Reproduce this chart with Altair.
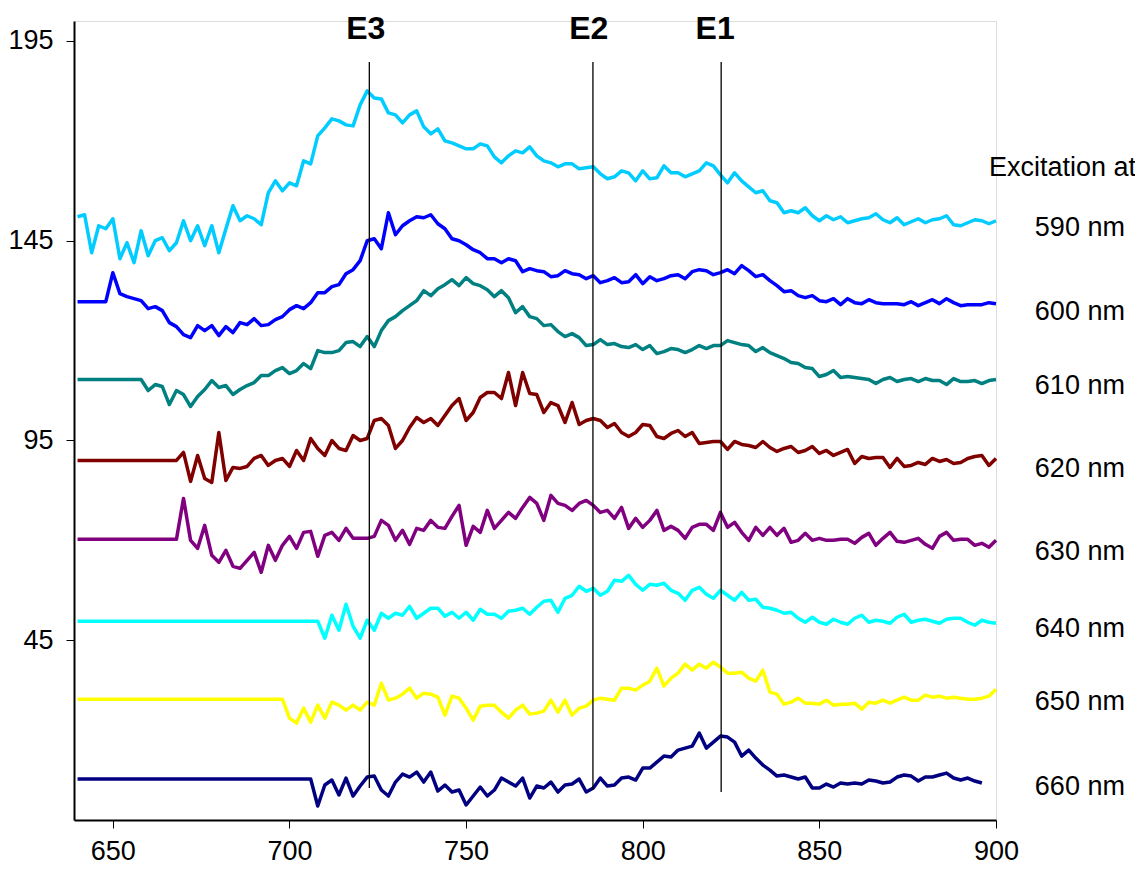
import altair as alt
import pandas as pd

# ---------------- data ----------------
WL_STEP = 2
SERIES = ["590 nm", "600 nm", "610 nm", "620 nm", "630 nm", "640 nm", "650 nm", "660 nm"]
COLORS = ["#00CCFF", "#0000FF", "#008080", "#800000", "#800080", "#00FFFF", "#FFFF00", "#000080"]

# flat baseline level, first wavelength of measured part, measured values (2 nm steps)
FLAT = {"590 nm": None, "600 nm": 129.75, "610 nm": 110.25, "620 nm": 90.0,
        "630 nm": 70.25, "640 nm": 49.75, "650 nm": 30.25, "660 nm": 10.25}
START = {"590 nm": 640, "600 nm": 650, "610 nm": 660, "620 nm": 670,
         "630 nm": 670, "640 nm": 710, "650 nm": 700, "660 nm": 708}

S590 = [151, 151.5, 142, 148.75, 148, 150.5, 140.5, 144.5, 139.5, 147.5,
        141.25, 145, 145.75, 142.5, 144.5, 150, 145, 148.75, 143.75, 148.75,
        142, 148, 153.75, 150, 151.25, 150.5, 149, 157, 160, 157.5,
        159.5, 158.75, 165, 164.25, 171.25, 173.25, 175.5, 175, 174, 173.75,
        179, 182.5, 180.75, 180.5, 177, 176.5, 174.5, 176.5, 177.5, 173.5,
        171.75, 173, 170, 169.5, 168.75, 168, 168, 169.25, 168.75, 166,
        164.5, 166.25, 167.5, 167, 168.5, 166.25, 165, 164.5, 163.5, 164.25,
        164.25, 163, 163.25, 163.5, 161.75, 160.5, 161, 162.5, 162, 160,
        162.5, 160.5, 160.75, 163.75, 162, 162, 161, 161.75, 162.5, 164.5,
        163.75, 161.5, 159.5, 162, 160, 158.5, 157, 157.5, 155, 154.5,
        152, 152.5, 152, 153.25, 151.25, 150, 151.25, 150.25, 151, 149.5,
        150, 150.5, 150.75, 151.75, 150.25, 149.5, 150.75, 149, 149.75, 150.5,
        149.5, 150.25, 150.5, 151.25, 149, 148.75, 149.5, 150.25, 150, 149.25,
        150]

S600 = [137, 131.75, 131, 130.5, 130, 128, 128.5, 127.5, 124.5, 123.5,
        121.5, 120.75, 123.75, 122.5, 123.75, 121.25, 123.5, 122, 124.5, 124,
        125.5, 123.75, 124, 125.25, 126, 127.75, 128.75, 128, 129.5, 132,
        132, 133.5, 134, 136.75, 137.75, 140, 145, 145.5, 143, 152,
        146.5, 148.75, 150, 151, 150.75, 151.5, 149.25, 148, 145.5, 145,
        144, 142.75, 142, 140.5, 140.5, 139.5, 140.5, 140, 137.25, 138,
        137.5, 137.25, 136, 136.25, 137.5, 136.75, 136.5, 135.5, 136.25, 134.5,
        135, 135.75, 134.5, 134.75, 136.5, 134.25, 136, 135, 135.5, 136.25,
        136.5, 135.5, 137.25, 137.75, 137.5, 136.5, 137, 137.75, 136.75, 138.75,
        137.5, 136, 136.5, 135, 133.75, 132.25, 132.5, 131.25, 130.75, 131.25,
        130, 129.75, 130.5, 129, 130.5, 129.5, 129.25, 130.25, 129.5, 129.25,
        129.25, 129.25, 129, 129.75, 128.75, 129.5, 130.25, 129.25, 130.5, 129.5,
        128.75, 129, 129, 129, 129.5, 129.25]

S610 = [107.5, 109, 108.5, 104, 107.5, 106.5, 103.5, 106, 107.75, 110,
        108.25, 108.75, 106.5, 107.75, 108.75, 109.5, 111.25, 111.25, 112.5, 113.25,
        111.75, 112.5, 114.25, 113, 117.5, 117, 117, 117.5, 119.5, 119.75,
        118.5, 121, 118.5, 122.5, 125, 126, 127.5, 128.75, 130, 132.5,
        131.25, 133, 134, 135.25, 133.75, 135.75, 134.25, 133.75, 132.75, 131,
        132.5, 130.75, 127, 128.5, 126, 125.5, 123.75, 124, 122.25, 121,
        121.75, 120.75, 118.75, 119, 120.25, 119, 119.25, 118.5, 118.25, 119,
        117.75, 118.75, 116.75, 117.25, 118, 117.75, 117, 117.75, 118.75, 118,
        118.75, 118.75, 120, 119.5, 119, 118.75, 117.25, 118.25, 117, 116.25,
        115.5, 114.5, 114.25, 113.25, 113, 111, 111.5, 112.5, 110.75, 111,
        110.75, 110.5, 110.25, 109.25, 110.25, 110.75, 109.75, 110.25, 110.5, 109.75,
        110.5, 110, 110, 109, 110.5, 109.75, 109.75, 110, 109.25, 110,
        110.25]

S620 = [92, 84.75, 91.25, 85.5, 84.5, 97, 85, 88.25, 88, 88.5,
        90.5, 91.25, 88.75, 90, 90.5, 88.5, 92.5, 90, 95.5, 93,
        91.25, 95, 93, 92.5, 96.25, 95, 95.5, 100, 100.5, 98.75,
        93, 95, 98.25, 100.75, 99.5, 100.5, 98.75, 101.25, 103.75, 105.5,
        100, 102, 105.75, 107, 107, 105.5, 112, 103.75, 112, 106.75,
        106.5, 102, 104.5, 103.75, 99.5, 104.5, 99, 100, 100.5, 100,
        98.25, 99.25, 97, 96, 97, 99, 98.75, 96, 95.5, 96.75,
        97.5, 96, 97, 94.25, 94.5, 94.75, 94.75, 92.75, 94.75, 94,
        93.75, 93.25, 94.75, 93.25, 92.25, 93, 93.5, 92, 92.5, 93.5,
        91.75, 92.5, 91.25, 92, 92.75, 89.25, 91, 90.5, 90.75, 90.75,
        88.25, 90.5, 88.5, 88.75, 89.5, 89, 90.5, 89.75, 90.25, 89.25,
        89.5, 90.5, 91, 91.25, 88.75, 90.5]

S630 = [80.5, 70, 68, 73.75, 66.25, 64.5, 67.5, 63.5, 63, 65,
        67, 62, 68.75, 65, 68.75, 71, 68, 72, 72.25, 66,
        71.25, 72, 70, 73, 70.5, 70.5, 70.5, 71, 75, 73.75,
        70, 72.5, 69, 73, 72.5, 75, 73.25, 73, 76, 78.75,
        68.75, 73.5, 72, 77.5, 73, 75, 77, 75.5, 78.25, 80.75,
        79.25, 75, 81.25, 79.25, 78.75, 77.5, 79.25, 80, 78.75, 77,
        77.5, 75.5, 78.25, 73, 75.5, 73.25, 75, 77.5, 72.5, 73.5,
        72.5, 70.5, 73.25, 74, 74, 72.5, 77, 73.25, 74.5, 72,
        70, 73.25, 71.25, 73.25, 71.25, 73, 69.5, 70, 71.75, 70,
        70.5, 70, 70, 70.25, 70.25, 69.25, 70.75, 71.75, 68.75, 70.5,
        72, 69.75, 69.5, 70, 70.5, 69, 68, 71, 72, 70,
        70.25, 70.25, 68.75, 69.25, 68.25, 70]

S640 = [45.5, 51.25, 47.5, 54, 48.5, 45.5, 50, 47.5, 51.75, 50.5,
        51.75, 51.25, 53.5, 50.5, 51.75, 53, 53, 51, 52, 50.5,
        52, 50, 52.75, 51.5, 51.5, 50.5, 52.25, 52.5, 53, 51.5,
        53.25, 54.75, 55, 52, 55.5, 56.25, 58.5, 57.25, 58, 56.25,
        57.25, 60, 59.75, 61.25, 59, 57.5, 59, 58.75, 59.25, 57.5,
        56.75, 55, 57.5, 58.25, 56.5, 55.5, 57.5, 56.25, 55, 57,
        55, 55.25, 53.25, 53, 52.5, 51.75, 52, 50.5, 49.5, 50.75,
        49.5, 49, 50.25, 49.5, 49, 50.5, 51.25, 49.5, 50, 49.75,
        49.25, 50.75, 51.5, 49.5, 50, 50.25, 49.75, 49.25, 50.25, 50.5,
        50.5, 49.5, 48.75, 50, 49.5, 49.25]

S650 = [25.5, 24.25, 28, 24.5, 28.75, 25.5, 29.5, 28.75, 27.5, 28.75,
        27.5, 29.5, 28.75, 34.25, 30, 30.5, 31.5, 33, 30.5, 31.75,
        31.5, 30.75, 26.25, 31, 30.5, 28, 25, 28.5, 28.75, 28.75,
        27, 25.5, 27.5, 28.75, 26.5, 26.75, 27.25, 30, 27, 30,
        26.25, 28, 28.5, 30, 30.5, 30.25, 30, 33, 33, 32.5,
        33.75, 34.75, 38, 33.5, 35.5, 36.75, 39, 37.5, 39, 38,
        39.5, 38.25, 36.75, 36.75, 37, 35.5, 34.75, 37.5, 32, 31.5,
        29, 29.5, 30.5, 29.25, 29.25, 29, 30, 28.75, 29, 29,
        29.25, 27.75, 29.5, 29.25, 30, 29.25, 30, 30.75, 30, 30,
        31.25, 30.75, 31, 30.5, 30.75, 30.5, 30.25, 30.25, 30.5, 31,
        32.75]

S660 = [3.5, 8.75, 10, 6.25, 10.5, 6, 8.5, 10.75, 11, 7.5,
        6, 9.5, 11.5, 10.75, 12, 9.5, 12, 7.25, 8.75, 7,
        7.5, 3.75, 6, 8.25, 6, 7.5, 10.5, 9.5, 8.5, 10.5,
        5.5, 8.5, 8, 9.5, 7, 8.75, 9, 10.25, 7, 8,
        10.5, 8.5, 8.75, 10.5, 10.75, 10, 13, 13, 14.5, 16,
        15.75, 17.5, 18, 18.5, 21.75, 18, 19.5, 21, 20.75, 19.5,
        16, 17.5, 15.5, 13.75, 12.5, 11, 11.25, 10.75, 10.25, 10.75,
        8, 8, 9, 8.25, 9.25, 9, 9.25, 9, 10, 9.75,
        9.25, 9.5, 10.75, 11.25, 11, 9.75, 10.75, 10.75, 11.25, 11.75,
        10.5, 10, 10.5, 9.75, 9.25]

VALUES = {"590 nm": S590, "600 nm": S600, "610 nm": S610, "620 nm": S620,
          "630 nm": S630, "640 nm": S640, "650 nm": S650, "660 nm": S660}

# reference lines E3, E2, E1
E_LABELS = ["E3", "E2", "E1"]
E_POS = [722.6, 785.9, 822.2]
E_TOP = [189.75, 189.75, 189.75]
E_BOTTOM = [8.0, 7.5, 7.0]
E_TEXT_X = [721.6, 784.7, 820.5]
E_TEXT_Y = [195.5, 195.5, 195.5]

# right-hand labels
LABEL_X = 911
LABEL_Y = [146.25, 125.25, 106.75, 85.75, 65.0, 45.75, 27.5, 6.25]
HEADER = "Excitation at"
HEADER_X = 898
HEADER_Y = 161.25

X_TICKS = [650, 700, 750, 800, 850, 900]
Y_TICKS = [45, 95, 145, 195]

# ---------------- build tables ----------------
rows = []
for s in SERIES:
    vals = VALUES[s]
    start = START[s]
    order = 0
    if FLAT[s] is not None:
        rows.append({"series": s, "wl": 640, "v": FLAT[s], "o": order}); order += 1
        rows.append({"series": s, "wl": start - WL_STEP, "v": FLAT[s], "o": order}); order += 1
    for i, v in enumerate(vals):
        rows.append({"series": s, "wl": start + i * WL_STEP, "v": v, "o": order}); order += 1
df = pd.DataFrame(rows)

rules_df = pd.DataFrame({"x": E_POS, "y": E_TOP, "y2": E_BOTTOM})
etext_df = pd.DataFrame({"x": E_TEXT_X, "y": E_TEXT_Y, "t": E_LABELS})
lab_df = pd.DataFrame({"x": [LABEL_X] * len(SERIES), "y": LABEL_Y, "t": SERIES})
head_df = pd.DataFrame({"x": [HEADER_X], "y": [HEADER_Y], "t": [HEADER]})

FONT = "Liberation Sans"

xscale = alt.Scale(domain=[639, 900], nice=False, zero=False)
yscale = alt.Scale(domain=[0, 200], nice=False, zero=False)

xaxis = alt.Axis(values=X_TICKS, title=None, grid=False, domainColor="black",
                 domainWidth=2, tickColor="black", tickWidth=1, tickSize=8,
                 labelFont=FONT, labelFontSize=27, labelColor="black",
                 labelPadding=10, labelFlush=False)
yaxis = alt.Axis(values=Y_TICKS, title=None, grid=False, domainColor="black",
                 domainWidth=2, tickColor="black", tickWidth=1, tickSize=8,
                 labelFont=FONT, labelFontSize=27, labelColor="black",
                 labelPadding=13, labelFlush=False)

lines = alt.Chart(df).mark_line(strokeWidth=3.5, strokeJoin="round").encode(
    x=alt.X("wl:Q", scale=xscale, axis=xaxis),
    y=alt.Y("v:Q", scale=yscale, axis=yaxis),
    color=alt.Color("series:N", scale=alt.Scale(domain=SERIES, range=COLORS), legend=None),
    order="o:Q",
)

rules = alt.Chart(rules_df).mark_rule(color="black", strokeWidth=1.3).encode(
    x=alt.X("x:Q", scale=xscale), y=alt.Y("y:Q", scale=yscale), y2="y2:Q"
)

etext = alt.Chart(etext_df).mark_text(
    font=FONT, fontSize=32, fontWeight="bold", color="black",
    align="center", baseline="alphabetic"
).encode(x=alt.X("x:Q", scale=xscale), y=alt.Y("y:Q", scale=yscale), text="t:N")

labels = alt.Chart(lab_df).mark_text(
    font=FONT, fontSize=27, color="black", align="left", baseline="alphabetic"
).encode(x=alt.X("x:Q", scale=xscale), y=alt.Y("y:Q", scale=yscale), text="t:N")

header = alt.Chart(head_df).mark_text(
    font=FONT, fontSize=27, color="black", align="left", baseline="alphabetic"
).encode(x=alt.X("x:Q", scale=xscale), y=alt.Y("y:Q", scale=yscale), text="t:N")

chart = alt.layer(lines, rules, etext, labels, header).properties(
    width=922, height=799,
    autosize=alt.AutoSizeParams(type="none"),
    padding={"left": 66, "top": 13, "right": 139, "bottom": 44},
).configure_view(stroke=None).configure(background="white")

chart.save("out.html", embed_options={"renderer": "svg", "actions": False})
